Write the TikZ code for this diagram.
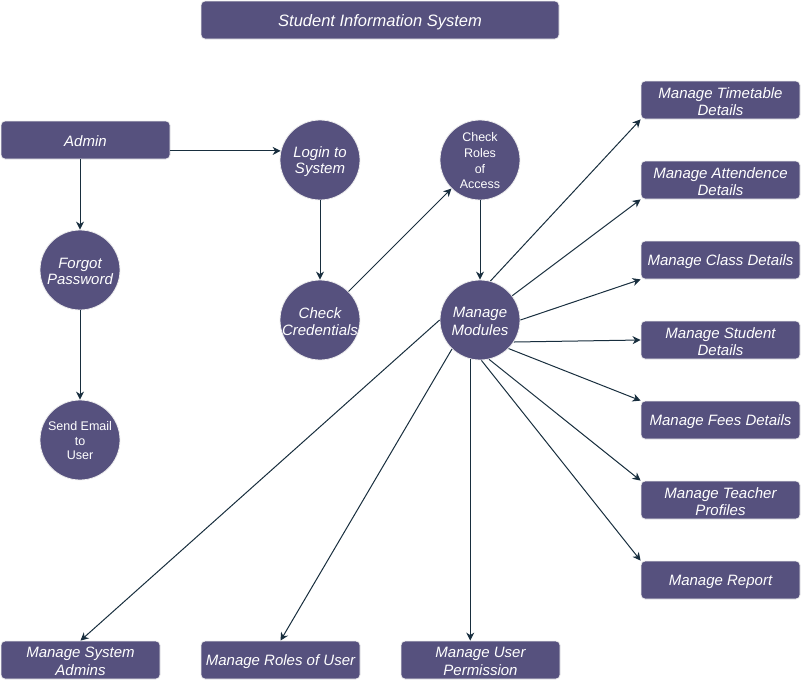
\documentclass[tikz,border=0pt]{standalone}
\usepackage{fontspec}
\setmainfont{Liberation Sans}
\usetikzlibrary{arrows.meta}
\definecolor{boxfill}{HTML}{56517E}
\definecolor{boxline}{HTML}{EEEEEE}
\definecolor{edge}{HTML}{182E3E}
\tikzset{
  lbl/.style={text=white, align=center, inner sep=0pt, yshift=-1.5pt,
    font=\fontsize{15}{17.7}\selectfont\itshape},
  lblplain/.style={text=white, align=center, inner sep=0pt, yshift=-0.8pt,
    font=\fontsize{12.5}{15}\selectfont},
  lbltitle/.style={lbl, yshift=-0.8pt, font=\fontsize{16.5}{19}\selectfont\itshape},
  box/.style={draw=boxline, line width=0.8pt, fill=boxfill, rounded corners=4pt,
    inner sep=0pt, minimum width=159pt, minimum height=38pt},
  circ/.style={circle, draw=boxline, line width=0.8pt, fill=boxfill,
    inner sep=0pt, minimum size=80pt},
  conn/.style={draw=edge, line width=1pt, -{Stealth[length=8pt,width=8pt,inset=2.5pt]}}
}
\begin{document}
\begin{tikzpicture}[x=1pt,y=-1pt]
\useasboundingbox (0,0) rectangle (801,681);
% title
\node[box, minimum width=358pt, label={[lbltitle]center:Student Information System}] (title) at (380,20) {};
% left
\node[box, minimum width=169pt, label={[lbl]center:Admin}] (admin) at (85.5,140) {};
\node[circ, label={[lbl,font=\fontsize{15}{16.7}\selectfont\itshape]center:Forgot\\Password}] (forgot) at (80,270) {};
\node[circ, label={[lblplain,font=\fontsize{12.5}{14.4}\selectfont]center:Send Email\\to\\User}] (email) at (80,440) {};
% middle
\node[circ, label={[lbl,font=\fontsize{15}{16.7}\selectfont\itshape]center:Login to\\System}] (login) at (320,160) {};
\node[circ, label={[lbl,font=\fontsize{15}{16.7}\selectfont\itshape]center:Check\\Credentials}] (cred) at (320,320) {};
\node[circ, label={[lblplain,font=\fontsize{12.5}{15.7}\selectfont]center:Check\\Roles\\of\\Access}] (roles) at (480,160) {};
\node[circ, label={[lbl,font=\fontsize{15}{17.3}\selectfont\itshape]center:Manage\\Modules}] (mm) at (480,320) {};
% right
\node[box, label={[lbl]center:Manage Timetable\\Details}] (tt) at (720.5,100) {};
\node[box, label={[lbl]center:Manage Attendence\\Details}] (att) at (720.5,180) {};
\node[box, label={[lbl]center:Manage Class Details}] (cls) at (720.5,260) {};
\node[box, label={[lbl]center:Manage Student\\Details}] (stu) at (720.5,340) {};
\node[box, label={[lbl]center:Manage Fees Details}] (fee) at (720.5,420) {};
\node[box, label={[lbl]center:Manage Teacher\\Profiles}] (tea) at (720.5,500) {};
\node[box, label={[lbl]center:Manage Report}] (rep) at (720.5,580) {};
% bottom
\node[box, label={[lbl]center:Manage System\\Admins}] (sa) at (80.5,660) {};
\node[box, label={[lbl]center:Manage Roles of User}] (ru) at (280.5,660) {};
\node[box, label={[lbl]center:Manage User\\Permission}] (up) at (480.5,660) {};
% connectors
\draw[conn] (admin.east |- login.167) -- (login.167);
\draw[conn] (forgot.north |- admin.south) -- (forgot.north);
\draw[conn] (forgot) -- (email);
\draw[conn] (login) -- (cred);
\draw[conn] (cred) -- (roles);
\draw[conn] (roles) -- (mm);
\draw[conn] (mm.75) -- (tt.south west);
\draw[conn] (mm.37) -- (att.south west);
\draw[conn] (mm.0) -- (cls.south west);
\draw[conn] (mm.-33) -- (stu.west);
\draw[conn] (mm.-45) -- (fee.north west);
\draw[conn] (mm.-77) -- (tea.north west);
\draw[conn] (mm.-88) -- (rep.north west);
\draw[conn] (mm.-104) -- (mm.-104 |- up.north);
\draw[conn] (mm.-134) -- (ru.north);
\draw[conn] (mm.180) -- (sa.north);
\end{tikzpicture}
\end{document}
